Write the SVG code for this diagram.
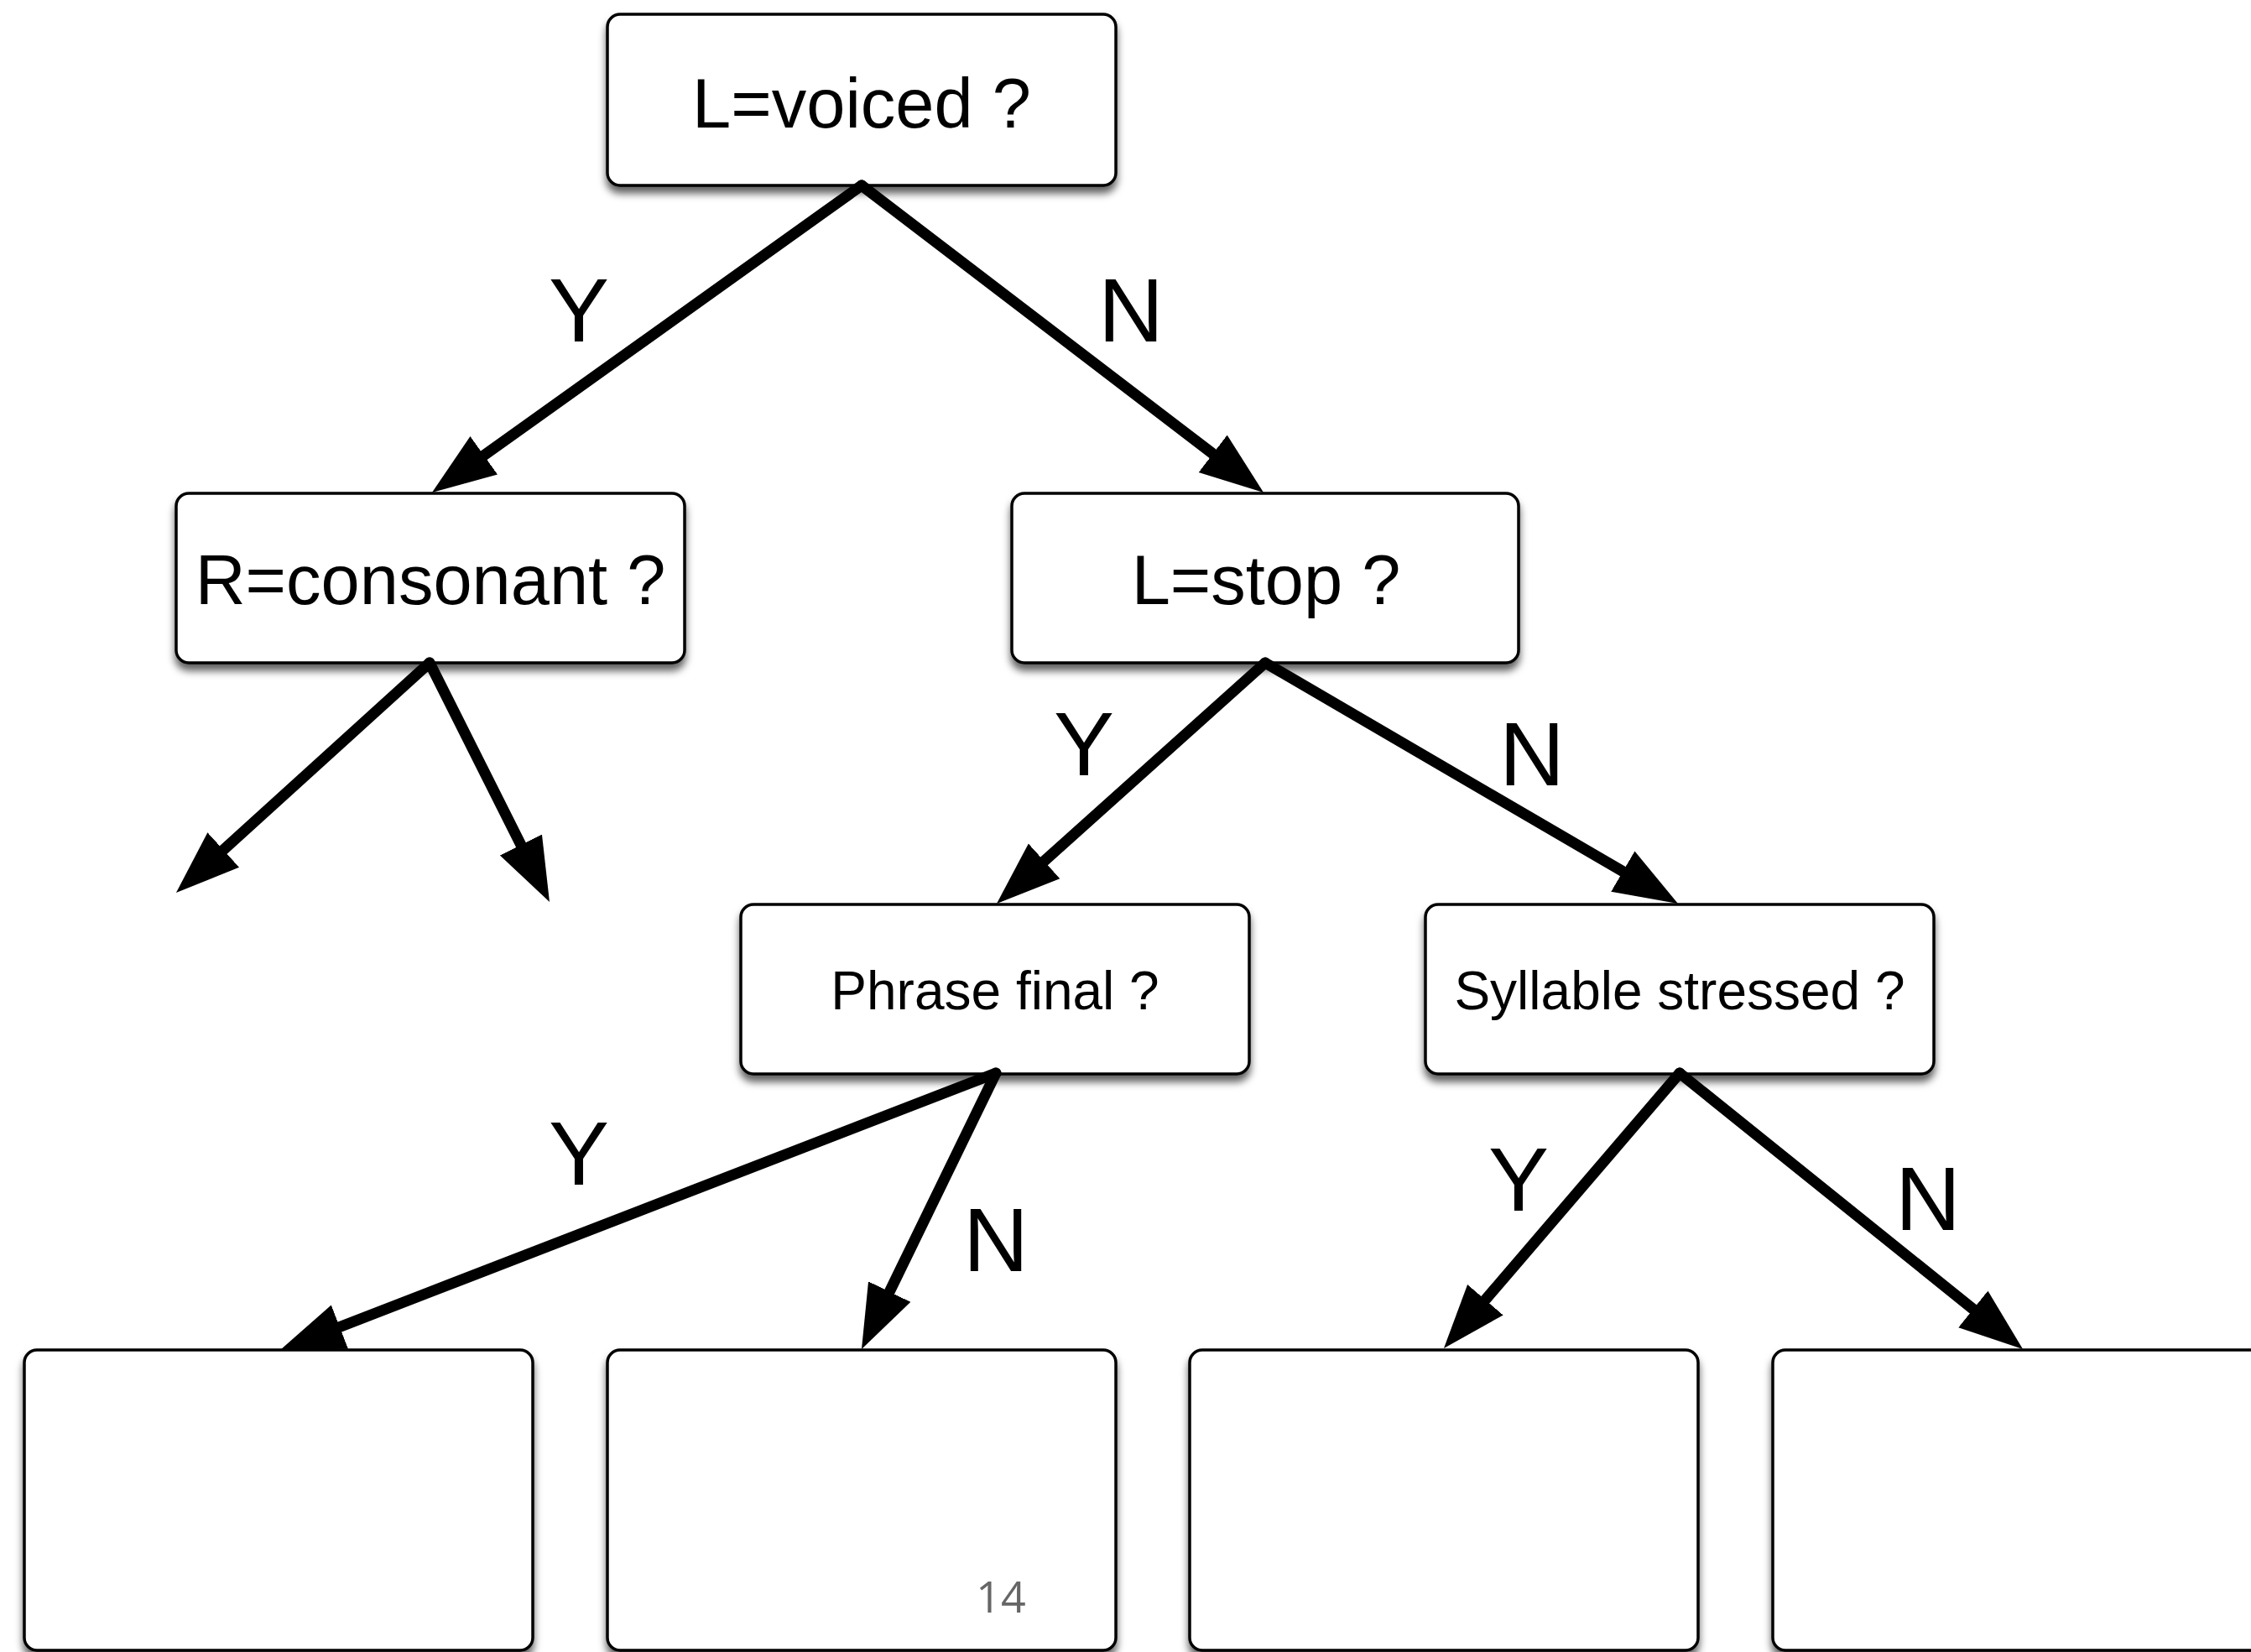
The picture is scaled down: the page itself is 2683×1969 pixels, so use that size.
<svg xmlns="http://www.w3.org/2000/svg" width="2683" height="1969" viewBox="0 0 2683 1969">
<defs>
<filter id="sh" x="-10%" y="-10%" width="120%" height="130%">
<feDropShadow dx="0" dy="8" stdDeviation="5" flood-color="#000" flood-opacity="0.62"/>
</filter>
<marker id="ah" markerUnits="userSpaceOnUse" markerWidth="80" markerHeight="60" viewBox="0 -30 80 60" refX="6" refY="0" orient="auto">
<path d="M0,-28 L76,0 L0,28 z" fill="#000"/>
</marker>
</defs>
<style>
.box{fill:#fff;stroke:#000;stroke-width:3.5;filter:url(#sh)}
.t{font-family:"Liberation Sans",Arial,Helvetica,sans-serif;fill:#000;text-anchor:middle}
.big{font-size:83px}
.small{font-size:64px}
.lab{font-family:"Liberation Sans",Arial,Helvetica,sans-serif;font-size:108px;fill:#000;text-anchor:middle}
.c{fill:none;stroke:#000;stroke-width:13;stroke-linecap:round;marker-end:url(#ah)}
</style>
<rect width="2683" height="1969" fill="#fff"/>
<g id="n-voiced"><rect class="box" x="724" y="17" width="606" height="204" rx="15"/><text class="t big" x="1027" y="152">L=voiced ?</text></g>
<g id="n-consonant"><rect class="box" x="210" y="588" width="606" height="202" rx="15"/><text class="t big" x="513" y="720">R=consonant ?</text></g>
<g id="n-stop"><rect class="box" x="1206" y="588" width="604" height="202" rx="15"/><text class="t big" x="1509" y="720">L=stop ?</text></g>
<g id="n-phrase"><rect class="box" x="883" y="1078" width="606" height="202" rx="15"/><text class="t small" x="1186" y="1203">Phrase final ?</text></g>
<g id="n-syllable"><rect class="box" x="1699" y="1078" width="606" height="202" rx="15"/><text class="t small" x="2002" y="1203">Syllable stressed ?</text></g>
<g id="leaf1"><rect class="box" x="29" y="1609" width="606" height="358" rx="15"/></g>
<g id="leaf2"><rect class="box" x="724" y="1609" width="606" height="358" rx="15"/></g>
<g id="leaf3"><rect class="box" x="1418" y="1609" width="606" height="358" rx="15"/></g>
<g id="leaf4"><rect class="box" x="2113" y="1609" width="606" height="358" rx="15"/></g>
<g id="connectors">
<path class="c" d="M1027,221 L571.9,546.3"/>
<path class="c" d="M1027,221 L1450.4,544.5"/>
<path class="c" d="M512,790 L261.8,1017"/>
<path class="c" d="M512,790 L623.6,1012.4"/>
<path class="c" d="M1508,790 L1240.1,1030.3"/>
<path class="c" d="M1508,790 L1939.5,1041.7"/>
<path class="c" d="M1187,1279 L399.3,1583.7"/>
<path class="c" d="M1187,1279 L1057.6,1545"/>
<path class="c" d="M2002,1279 L1766.5,1553.8"/>
<path class="c" d="M2002,1279 L2356.5,1564.1"/>
</g>
<g id="labels">
<text class="lab" x="690" y="407">Y</text>
<text class="lab" x="1348" y="407">N</text>
<text class="lab" x="1292" y="924">Y</text>
<text class="lab" x="1826" y="936">N</text>
<text class="lab" x="690" y="1412">Y</text>
<text class="lab" x="1187" y="1515">N</text>
<text class="lab" x="1810" y="1443">Y</text>
<text class="lab" x="2298" y="1466">N</text>
</g>
<text id="page" x="1193" y="1922" font-family="'Open Sans','Noto Sans',sans-serif" font-size="52" fill="#666" text-anchor="middle">14</text>
</svg>
